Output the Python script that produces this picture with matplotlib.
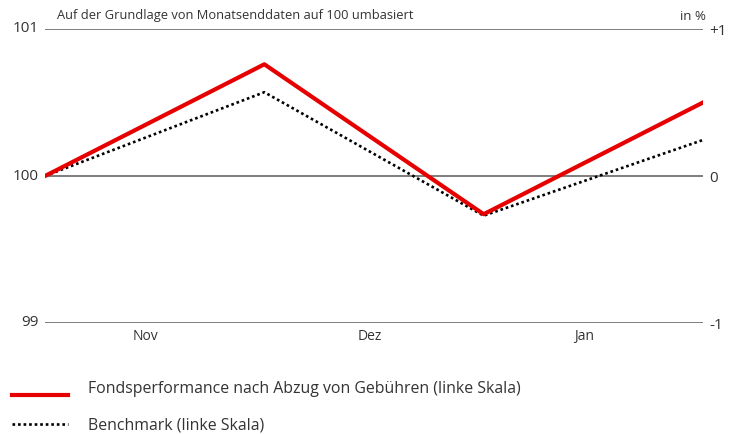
import matplotlib
matplotlib.use("Agg")
import matplotlib.pyplot as plt
from matplotlib.lines import Line2D

plt.rcParams["font.family"] = ["Open Sans", "DejaVu Sans"]

# Monatsenden (Index), Werte auf 100 umbasiert
x_pts = [0, 1, 2, 3]
fonds = [100.0, 100.76, 99.74, 100.50]
bench = [100.0, 100.57, 99.73, 100.245]

month_labels = ["Nov", "Dez", "Jan"]
month_pos = [0.46, 1.48, 2.46]
left_ticks = [99, 100, 101]
left_labels = ["99", "100", "101"]
right_labels = ["-1", "0", "+1"]

W, H = 737, 434
fig = plt.figure(figsize=(W / 100, H / 100), dpi=100)
ax = fig.add_axes([45 / W, (H - 323) / H, (703 - 45) / W, (323 - 29) / H])

ax.set_xlim(0, 3)
ax.set_ylim(99, 101)
for s in ax.spines.values():
    s.set_visible(False)
ax.set_xticks([])
ax.set_yticks([])

for t in left_ticks:
    ax.axhline(t, color="#5a5a5a", lw=1.1, zorder=1)

dot = (0, (1, 1.1))
ax.plot(x_pts, bench, color="black", lw=1.9, ls=dot, zorder=2)
ax.plot(x_pts, fonds, color="#e60000", lw=3.0, zorder=3)

txt = "#333333"
for t, lab in zip(left_ticks, left_labels):
    ax.text(-0.03, t, lab, ha="right", va="center", fontsize=11, color=txt)
for t, lab in zip(left_ticks, right_labels):
    ax.text(3.03, t - 0.015, lab, ha="left", va="center", fontsize=11, color=txt)
for p, lab in zip(month_pos, month_labels):
    ax.text(p, 98.96, lab, ha="center", va="top", fontsize=10, color=txt)

fig.text(57 / W, 1 - 16 / H, "Auf der Grundlage von Monatsenddaten auf 100 umbasiert",
         ha="left", va="center", fontsize=9.3, color=txt)
fig.text(706 / W, 1 - 16 / H, "in %", ha="right", va="center", fontsize=9.5, color=txt)

# Legende
fig.add_artist(Line2D([12 / W, 68 / W], [1 - 395 / H, 1 - 395 / H], color="#e60000", lw=3.0))
fig.add_artist(Line2D([12 / W, 68 / W], [1 - 424 / H, 1 - 424 / H], color="black", lw=1.9,
                      ls=dot))
fig.text(88 / W, 1 - 389 / H, "Fondsperformance nach Abzug von Gebühren (linke Skala)",
         ha="left", va="center", fontsize=11.4, color=txt)
fig.text(88 / W, 1 - 426 / H, "Benchmark (linke Skala)",
         ha="left", va="center", fontsize=11.4, color=txt)

fig.savefig("out.png", dpi=100)
